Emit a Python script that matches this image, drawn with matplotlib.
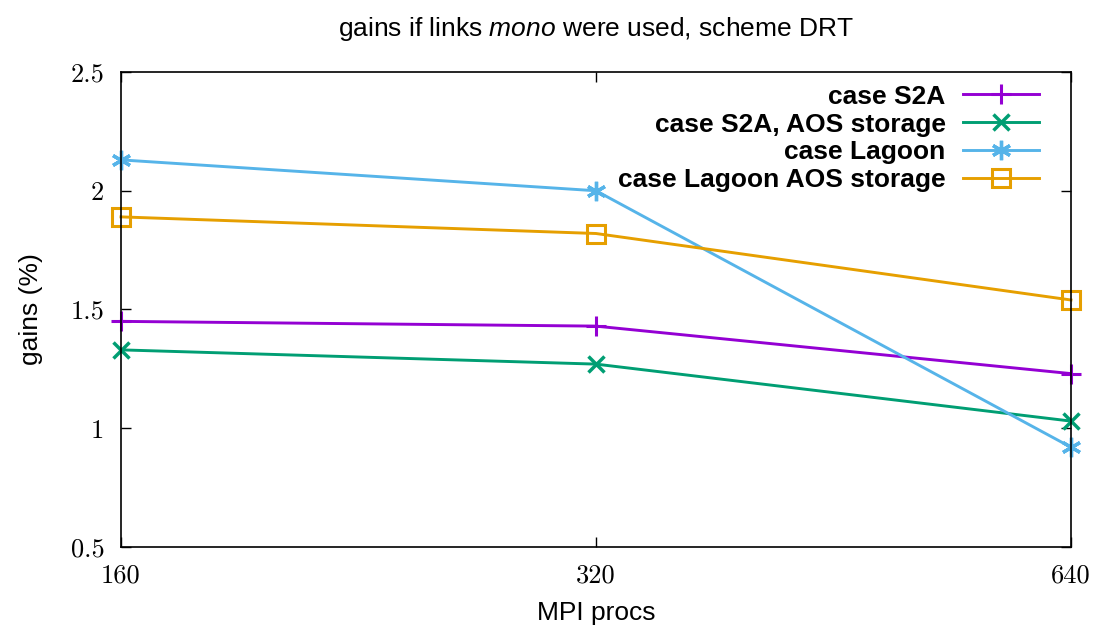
import matplotlib
matplotlib.use("Agg")
import matplotlib.pyplot as plt
from matplotlib.ticker import FixedLocator, FixedFormatter, NullLocator

# data
procs = [160, 320, 640]
s2a = [1.45, 1.43, 1.23]
s2a_aos = [1.33, 1.27, 1.03]
lagoon = [2.13, 2.00, 0.92]
lagoon_aos = [1.89, 1.82, 1.54]
yticks = [0.5, 1, 1.5, 2, 2.5]
ytick_labels = ["0.5", "1", "1.5", "2", "2.5"]

sans = "Liberation Sans"
fs = 19

plt.rcParams["mathtext.fontset"] = "custom"
plt.rcParams["mathtext.it"] = "Liberation Sans:italic"

fig = plt.figure(figsize=(10.98, 6.29), dpi=100)
ax = fig.add_axes([0.1102, 0.1304, 0.8652, 0.7551])

lw = 2.1
ax.plot(procs, s2a, color="#9400d3", lw=lw, marker="+", ms=14, mew=2.2, clip_on=False, label="case S2A")
ax.plot(procs, s2a_aos, color="#009e73", lw=lw, marker="x", ms=12, mew=2.5, clip_on=False, label="case S2A, AOS storage")
ax.plot(procs, lagoon, color="#56b4e9", lw=lw, marker=(6, 2, 0), ms=14, mew=2.4, clip_on=False, label="case Lagoon")
ax.plot(procs, lagoon_aos, color="#e69f00", lw=lw, marker="s", ms=13, mew=2.2, mfc="none", clip_on=False, label="case Lagoon AOS storage")

ax.set_xscale("log", base=2)
ax.set_xlim(160, 640)
ax.set_ylim(0.5, 2.5)
ax.xaxis.set_major_locator(FixedLocator(procs))
ax.xaxis.set_major_formatter(FixedFormatter([str(p) for p in procs]))
ax.xaxis.set_minor_locator(NullLocator())
ax.set_yticks(yticks)
ax.set_yticklabels(ytick_labels)

ax.tick_params(direction="in", length=7, width=1, top=True, right=True, pad=12)
for lab in ax.get_xticklabels() + ax.get_yticklabels():
    lab.set_fontfamily("cmr10")
    lab.set_fontsize(fs)

for sp in ax.spines.values():
    sp.set_linewidth(1.2)

ax.set_title("gains if links $\\mathit{mono}$ were used, scheme DRT", fontfamily=sans, fontsize=fs, pad=26)
ax.set_xlabel("MPI procs", fontfamily=sans, fontsize=fs, labelpad=10)
ax.set_ylabel("gains (%)", fontfamily=sans, fontsize=fs, labelpad=20)

leg = ax.legend(loc="upper right", markerfirst=False, frameon=False,
                prop={"family": sans, "weight": "bold", "size": fs},
                handlelength=2.9, handletextpad=0.65, labelspacing=0.145,
                borderaxespad=0.08, bbox_to_anchor=(0.98, 1.0))

fig.savefig("out.png", dpi=100)
